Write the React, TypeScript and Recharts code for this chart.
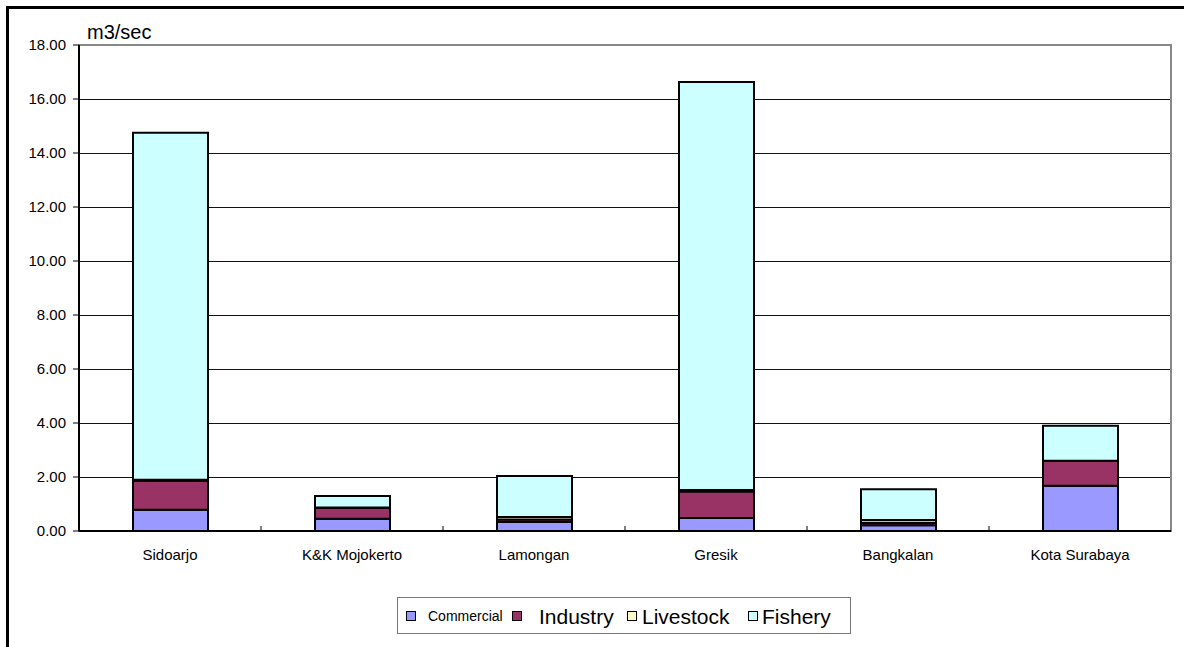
import React from 'react';
import {
  BarChart,
  Bar,
  XAxis,
  YAxis,
  CartesianGrid,
  Legend,
  ReferenceArea,
} from 'recharts';

// Water demand by regency, m3/sec
const regencies = ['Sidoarjo', 'K&K Mojokerto', 'Lamongan', 'Gresik', 'Bangkalan', 'Kota Surabaya'];
const commercial = [0.79, 0.45, 0.33, 0.48, 0.21, 1.68];
const industry = [1.07, 0.41, 0.1, 0.98, 0.1, 0.91];
const livestock = [0.04, 0.01, 0.09, 0.06, 0.1, 0.01];
const fishery = [12.85, 0.43, 1.52, 15.11, 1.14, 1.3];
const yTicks = [0, 2, 4, 6, 8, 10, 12, 14, 16, 18];

const series = [
  { key: 'Commercial', color: '#9999FF', fontSize: 14 },
  { key: 'Industry', color: '#993366', fontSize: 21 },
  { key: 'Livestock', color: '#FFFFCC', fontSize: 21 },
  { key: 'Fishery', color: '#CCFFFF', fontSize: 21 },
];

const rows = regencies.map((name, i) => ({
  name,
  Commercial: commercial[i],
  Industry: industry[i],
  Livestock: livestock[i],
  Fishery: fishery[i],
}));

const FONT = '"Liberation Sans", Arial, sans-serif';

// Category label plus a small upward tick at the left edge of each band
const CategoryTick = (props: any) => {
  const { x, y, payload, index } = props;
  const half = payload && typeof payload.offset === 'number' && payload.offset > 0 ? payload.offset : 91;
  return (
    <g>
      {index > 0 && (
        <line x1={x - half} x2={x - half} y1={y} y2={y - 5} stroke="#000" strokeWidth={1} />
      )}
      <text x={x} y={y + 29} textAnchor="middle" fontSize={15} fontFamily={FONT} fill="#000">
        {payload.value}
      </text>
    </g>
  );
};

// swatch left edge and label left edge for each legend entry, relative to the box
const legendSlots = [
  { swatch: 8, label: 30 },
  { swatch: 114, label: 141 },
  { swatch: 229, label: 244 },
  { swatch: 350, label: 364 },
];

const LegendBox = () => (
  <div
    style={{
      position: 'relative',
      width: 454,
      height: 37,
      border: '1px solid #777',
      background: '#fff',
      fontFamily: FONT,
      color: '#000',
      boxSizing: 'border-box',
    }}
  >
    {series.map((s, i) => (
      <React.Fragment key={s.key}>
        <span
          style={{
            position: 'absolute',
            left: legendSlots[i].swatch,
            top: 13,
            width: 10,
            height: 10,
            boxSizing: 'border-box',
            background: s.color,
            border: '1.5px solid #000',
          }}
        />
        <span
          style={{
            position: 'absolute',
            left: legendSlots[i].label,
            top: 18,
            transform: 'translateY(-50%)',
            fontSize: s.fontSize,
            lineHeight: 1,
            whiteSpace: 'nowrap',
          }}
        >
          {s.key}
        </span>
      </React.Fragment>
    ))}
  </div>
);

export default function App() {
  return (
    <div style={{ position: 'absolute', left: 0, top: 0, width: 1184, height: 647, background: '#fff' }}>
      <div
        style={{
          position: 'absolute',
          left: 6,
          top: 6,
          width: 1178,
          height: 641,
          borderLeft: '3px solid #000',
          borderTop: '3px solid #000',
          boxSizing: 'border-box',
        }}
      />
      <div style={{ position: 'absolute', left: 0, top: 0 }}>
        <BarChart
          width={1184}
          height={647}
          data={rows}
          margin={{ top: 45, right: 13, bottom: 86, left: 19 }}
          barSize={75}
        >
          <CartesianGrid vertical={false} stroke="#111" strokeWidth={1} shapeRendering="crispEdges" />
          <ReferenceArea y1={0} y2={18} fill="none" stroke="#888" strokeWidth={2} ifOverflow="visible" />
          <XAxis
            dataKey="name"
            height={30}
            axisLine={{ stroke: '#000', strokeWidth: 2 }}
            tickLine={false}
            tickSize={0}
            tickMargin={0}
            interval={0}
            tick={<CategoryTick />}
          />
          <YAxis
            width={60}
            domain={[0, 18]}
            ticks={yTicks}
            interval={0}
            tickFormatter={(v: number) => v.toFixed(2)}
            axisLine={{ stroke: '#000', strokeWidth: 2 }}
            tickLine={{ stroke: '#000' }}
            tickSize={6}
            tickMargin={7}
            tick={{ fontSize: 15, fontFamily: FONT, fill: '#000' }}
            label={{
              content: (p: any) => {
                const vb = p.viewBox || { x: 19, y: 45, width: 60 };
                return (
                  <text x={vb.x + vb.width + 8} y={vb.y - 6} fontSize={20} fontFamily={FONT} fill="#000">
                    m3/sec
                  </text>
                );
              },
            }}
          />
          <Legend
            layout="horizontal"
            align="center"
            verticalAlign="middle"
            wrapperStyle={{ left: 397, top: 597, width: 454 }}
            content={<LegendBox />}
          />
          {series.map((s) => (
            <Bar
              key={s.key}
              dataKey={s.key}
              stackId="demand"
              fill={s.color}
              stroke="#000"
              strokeWidth={2}
              isAnimationActive={false}
            />
          ))}
        </BarChart>
      </div>
    </div>
  );
}
